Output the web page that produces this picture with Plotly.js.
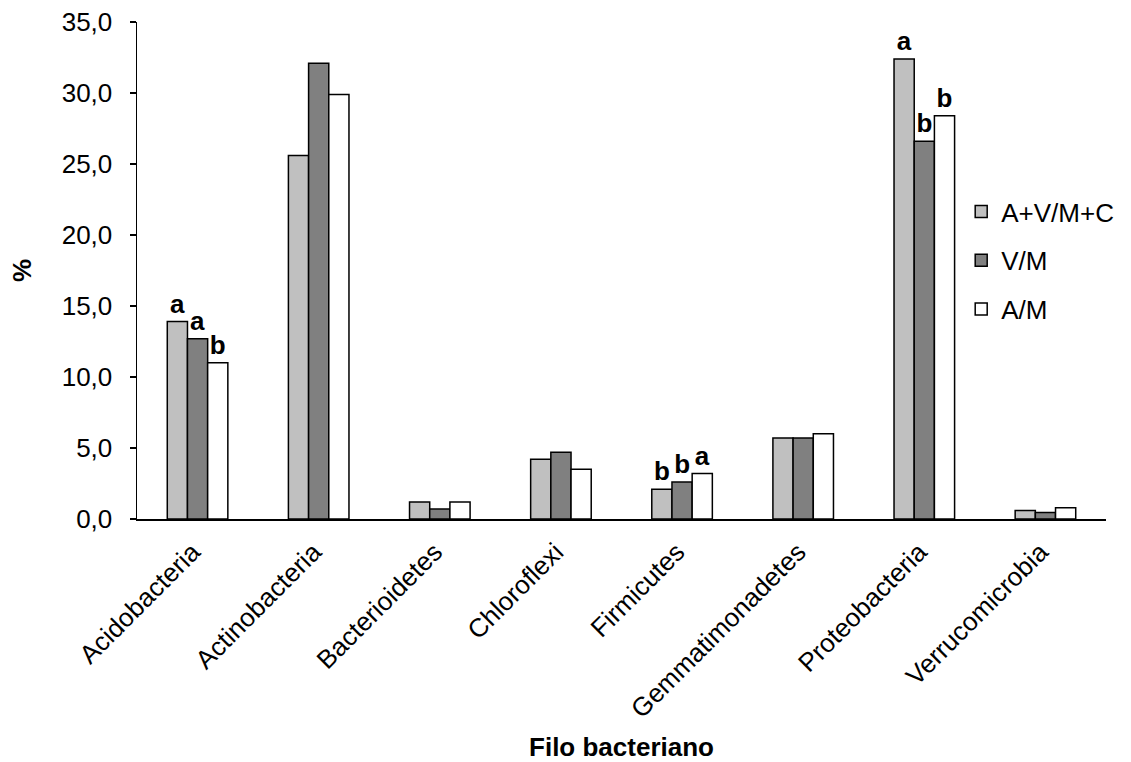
<!DOCTYPE html>
<html>
<head>
<meta charset="utf-8">
<script src="https://cdn.plot.ly/plotly-3.0.1.min.js"></script>
<style>
  html, body { margin: 0; padding: 0; background: #fff; }
  #chart { width: 1131px; height: 762px; }
</style>
</head>
<body>
<div id="chart"></div>
<script>
// Bacterial phyla (x categories)
const phyla = ['Acidobacteria', 'Actinobacteria', 'Bacterioidetes', 'Chloroflexi',
               'Firmicutes', 'Gemmatimonadetes', 'Proteobacteria', 'Verrucomicrobia'];

// Relative abundance (%) per treatment
const seriesNames = ['A+V/M+C', 'V/M', 'A/M'];
const avmc = [13.9, 25.6, 1.2, 4.2, 2.1, 5.7, 32.4, 0.6];
const vm   = [12.7, 32.1, 0.7, 4.7, 2.6, 5.7, 26.6, 0.45];
const am   = [11.0, 29.9, 1.2, 3.5, 3.2, 6.0, 28.4, 0.8];

// Significance letters shown above bars
const lettersAVMC = ['a', '', '', '', 'b', '', 'a', ''];
const lettersVM   = ['a', '', '', '', 'b', '', 'b', ''];
const lettersAM   = ['b', '', '', '', 'a', '', 'b', ''];

// Y axis ticks
const yTicks = [0, 5, 10, 15, 20, 25, 30, 35];

const FONT = 'Arial, "Liberation Sans", sans-serif';
const FS = 26;
const fills = ['#c0c0c0', '#808080', '#ffffff'];
const values = [avmc, vm, am];
const letters = [lettersAVMC, lettersVM, lettersAM];

const traces = values.map((v, i) => ({
  type: 'bar',
  name: seriesNames[i],
  legendgroup: 'g' + i,
  x: phyla,
  y: v,
  text: letters[i],
  textposition: 'outside',
  cliponaxis: false,
  constraintext: 'none',
  textfont: { family: FONT, size: FS, color: '#000', weight: 'bold' },
  marker: { color: fills[i], line: { color: '#000', width: 1.5 } },
  hoverinfo: 'x+y'
}));

const layout = {
  width: 1131,
  height: 762,
  margin: { l: 137, r: 17, t: 22, b: 243 },
  paper_bgcolor: '#fff',
  plot_bgcolor: '#fff',
  font: { family: FONT, size: FS, color: '#000' },
  separators: ', ',
  barmode: 'group',
  bargap: 0.5,
  bargroupgap: 0,
  showlegend: true,
  legend: {
    x: (968 - 137) / 977,
    xanchor: 'left',
    y: 1 - (188 - 22) / 497,
    yanchor: 'top',
    bgcolor: 'rgba(0,0,0,0)',
    font: { family: FONT, size: FS, color: '#000' },
    tracegroupgap: 12,
    traceorder: 'grouped',
    itemwidth: 30
  },
  xaxis: {
    type: 'category',
    tickangle: -45,
    showline: true,
    linecolor: '#000',
    linewidth: 1.5,
    ticks: '',
    ticklabelstandoff: 6,
    ticklabelshift: -5,
    showgrid: false,
    zeroline: false,
    tickfont: { family: FONT, size: FS, color: '#000' },
    title: {
      text: 'Filo bacteriano',
      font: { family: FONT, size: FS, color: '#000', weight: 'bold' },
      standoff: 22
    },
    automargin: false
  },
  yaxis: {
    range: [0, 35],
    tickvals: yTicks,
    tickformat: '.1f',
    ticks: 'outside',
    ticklen: 6,
    tickwidth: 1.5,
    tickcolor: '#000',
    ticklabelstandoff: 12,
    showline: true,
    linecolor: '#000',
    linewidth: 1.5,
    showgrid: false,
    zeroline: false,
    tickfont: { family: FONT, size: FS, color: '#000' },
    title: {
      text: '%',
      font: { family: FONT, size: FS, color: '#000', weight: 'bold' },
      standoff: 22
    },
    automargin: false
  }
};

Plotly.newPlot('chart', traces, layout, { staticPlot: true });
</script>
</body>
</html>
